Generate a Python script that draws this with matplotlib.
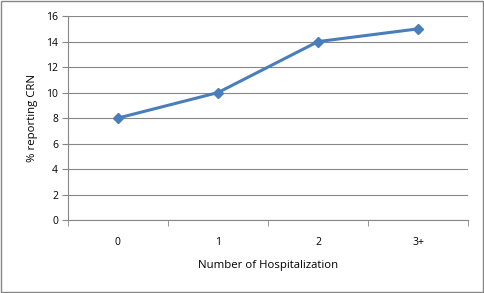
import matplotlib
matplotlib.use("Agg")
import matplotlib.pyplot as plt
from matplotlib.patches import Rectangle

# data
categories = ["0", "1", "2", "3+"]
values = [8, 10, 14, 15]

plt.rcParams['font.family'] = ['Open Sans', 'DejaVu Sans']

fig = plt.figure(figsize=(4.85, 2.93), dpi=100)
ax = fig.add_axes([0.140, 0.249, 0.825, 0.696])

x = list(range(len(categories)))
ax.plot(x, values, color="#4a7ebb", lw=2.2, marker="D", ms=5, zorder=3)

ax.set_xlim(-0.5, len(categories) - 0.5)
ax.set_ylim(0, 16)
ax.set_yticks(range(0, 17, 2))
ax.set_xticks(x)
ax.set_xticklabels(categories)
ax.set_xticks([i - 0.5 for i in range(len(categories) + 1)], minor=True)
ax.tick_params(axis="x", which="major", length=0, pad=12, labelsize=7.5)
ax.tick_params(axis="x", which="minor", length=4, color="#868686", direction="out")
ax.tick_params(axis="y", length=4, color="#868686", labelsize=7.5, pad=3)

ax.grid(axis="y", color="#868686", lw=0.8)
ax.set_axisbelow(True)
for s in ["top", "right"]:
    ax.spines[s].set_visible(False)
for s in ["left", "bottom"]:
    ax.spines[s].set_color("#868686")

ax.set_xlabel("Number of Hospitalization", fontsize=8.2, labelpad=9)
ax.set_ylabel("% reporting CRN", fontsize=8.2, labelpad=6)

fig.patches.append(Rectangle((0.003, 0.004), 0.992, 0.991, transform=fig.transFigure,
                             fill=False, edgecolor="#868686", lw=1))

fig.savefig("out.png", dpi=100)
